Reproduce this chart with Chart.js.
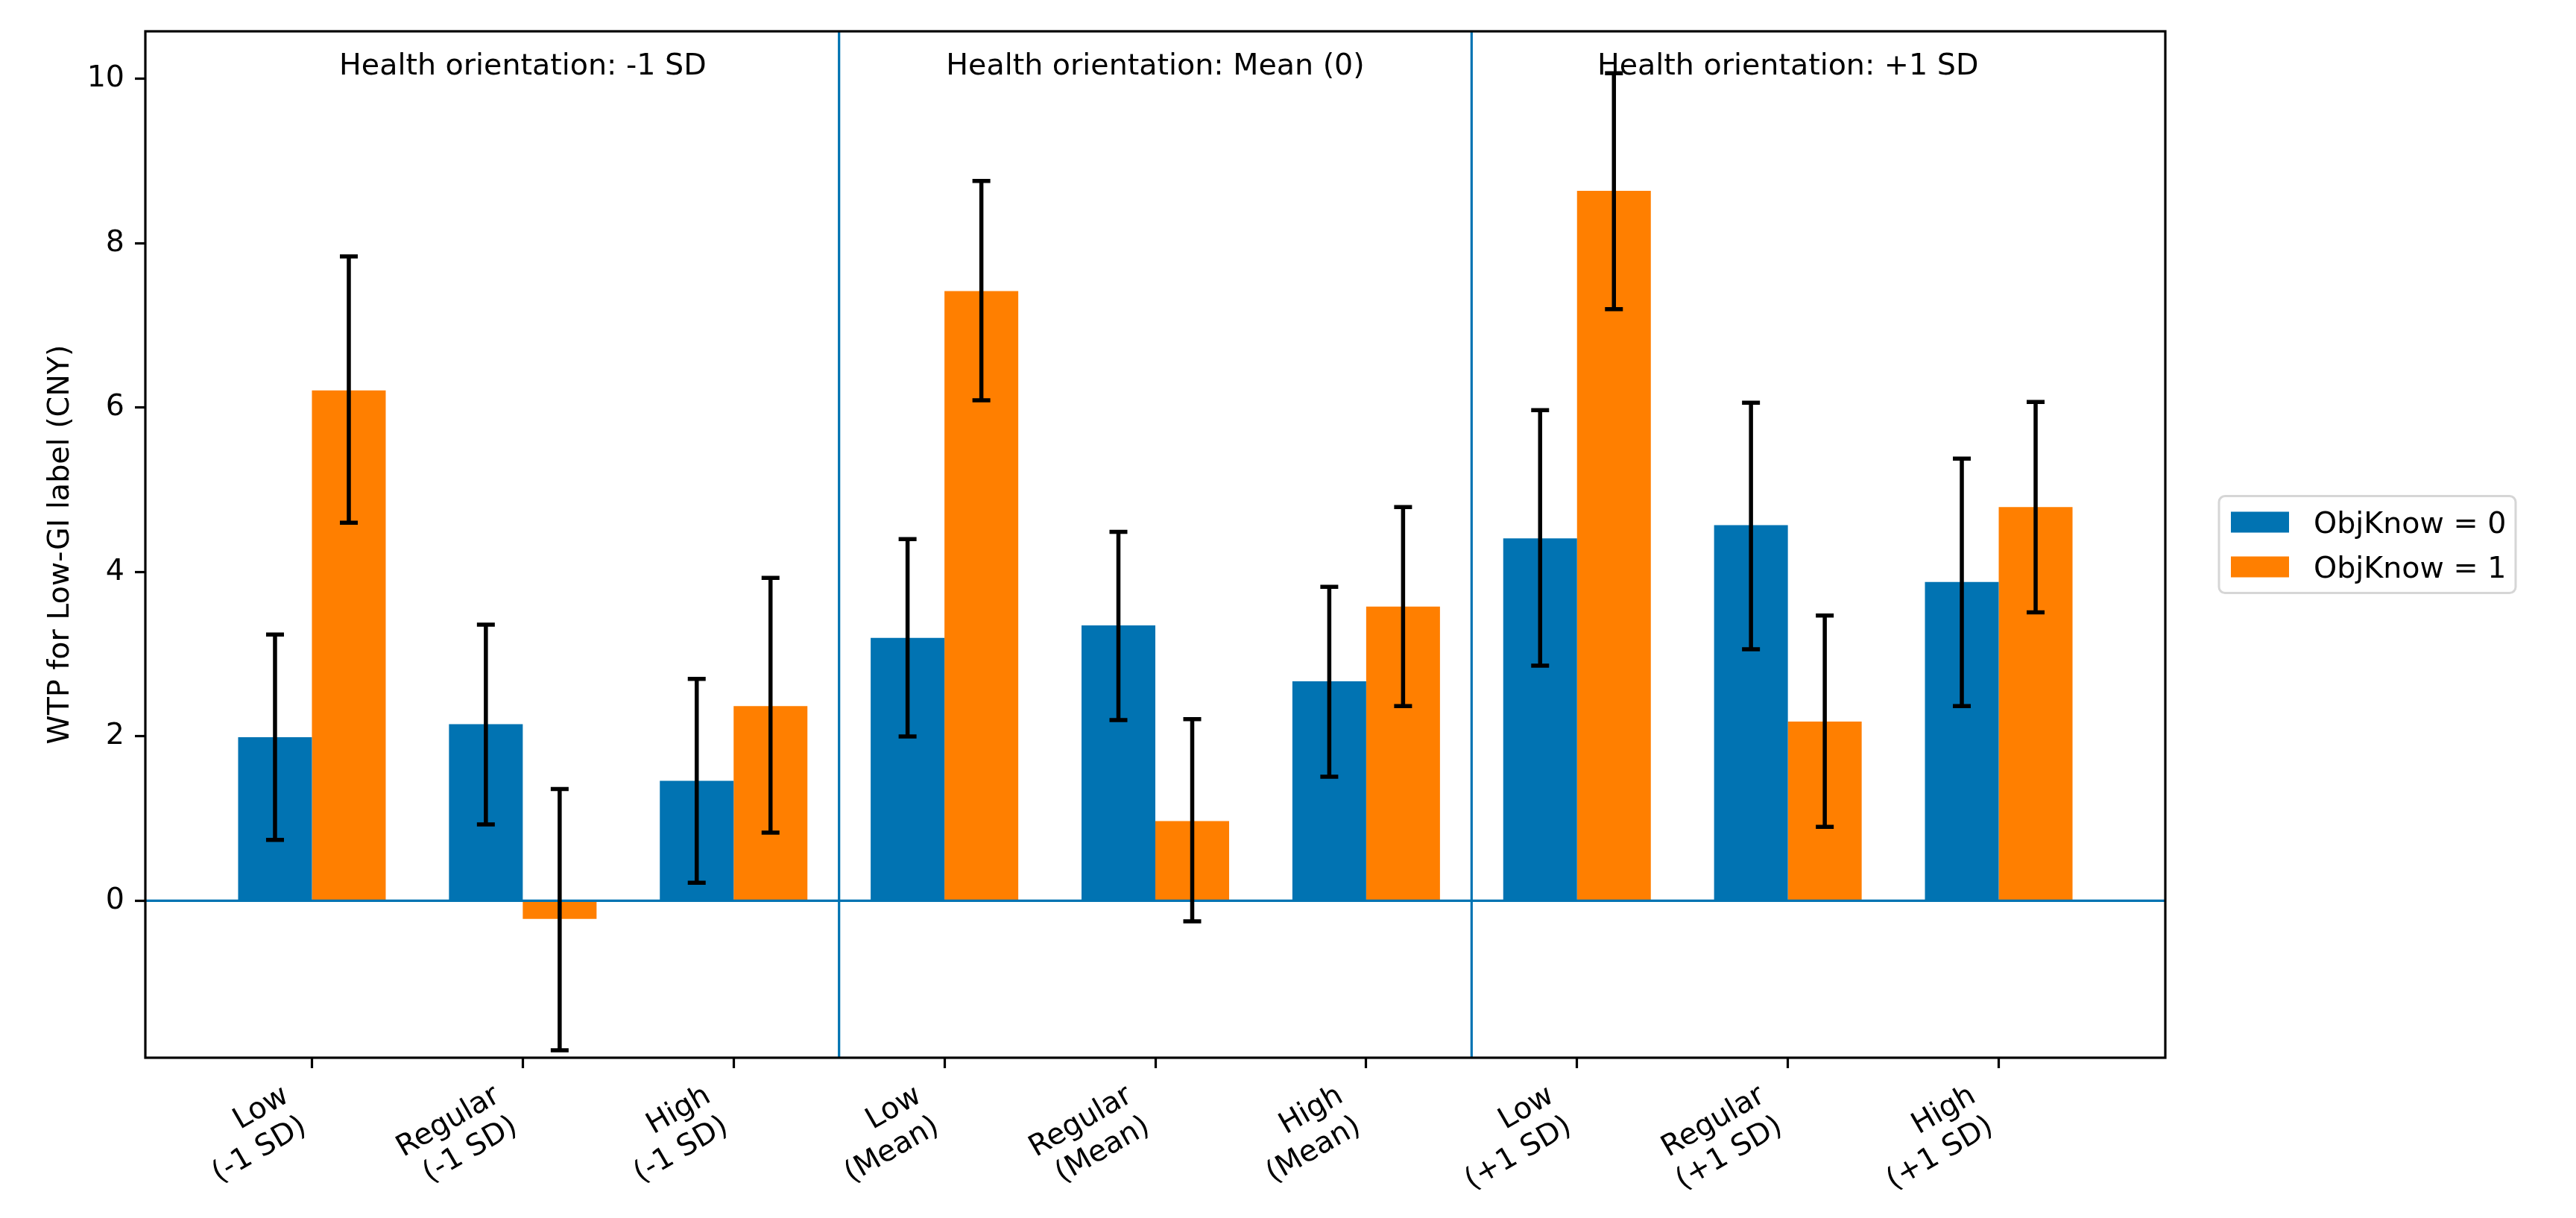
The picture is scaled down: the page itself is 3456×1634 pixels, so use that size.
<!DOCTYPE html>
<html>
<head>
<meta charset="utf-8">
<script src="https://cdn.jsdelivr.net/npm/chart.js@4.4.1/dist/chart.umd.min.js"></script>
<style>
    html, body { margin: 0; padding: 0; background: #fff; }
    #wrap { width: 3456px; height: 1634px; }
</style>
</head>
<body>
<div id="wrap"><canvas id="chart"></canvas></div>
<script>
const categories = [
    ["Low", "(-1 SD)"], ["Regular", "(-1 SD)"], ["High", "(-1 SD)"],
    ["Low", "(Mean)"], ["Regular", "(Mean)"], ["High", "(Mean)"],
    ["Low", "(+1 SD)"], ["Regular", "(+1 SD)"], ["High", "(+1 SD)"]
];
const panelTitles = ["Health orientation: -1 SD", "Health orientation: Mean (0)", "Health orientation: +1 SD"];
const seriesNames = ["ObjKnow = 0", "ObjKnow = 1"];
const yTicks = [0, 2, 4, 6, 8, 10];

const know0 = [1.99, 2.15, 1.46, 3.20, 3.35, 2.67, 4.41, 4.57, 3.88];
const know0Lo = [0.74, 0.93, 0.22, 2.00, 2.20, 1.51, 2.86, 3.06, 2.37];
const know0Hi = [3.24, 3.36, 2.70, 4.40, 4.49, 3.82, 5.97, 6.06, 5.38];

const know1 = [6.21, -0.22, 2.37, 7.42, 0.97, 3.58, 8.64, 2.18, 4.79];
const know1Lo = [4.60, -1.82, 0.83, 6.09, -0.25, 2.37, 7.20, 0.90, 3.51];
const know1Hi = [7.84, 1.36, 3.93, 8.76, 2.21, 4.79, 10.07, 3.47, 6.07];

const blue = "#0173B2", orange = "#FF7F00";
const FS = 39.6;

Chart.defaults.font.family = "'DejaVu Sans'";
Chart.defaults.font.size = FS;
Chart.defaults.color = "#000";

const errors = [[know0Lo, know0Hi], [know1Lo, know1Hi]];

const decor = {
    id: "decor",
    afterDatasetsDraw(chart) {
        const ctx = chart.ctx, ca = chart.chartArea;
        const xs = chart.scales.x, ys = chart.scales.y;
        ctx.save();

        // zero line and panel dividers
        ctx.strokeStyle = blue;
        ctx.lineWidth = 3.2;
        const y0 = ys.getPixelForValue(0);
        ctx.beginPath();
        ctx.moveTo(ca.left, y0);
        ctx.lineTo(ca.right, y0);
        [2.5, 5.5].forEach(v => {
            const px = xs.getPixelForValue(v);
            ctx.moveTo(px, ca.top);
            ctx.lineTo(px, ca.bottom);
        });
        ctx.stroke();

        // error bars
        ctx.strokeStyle = "#000";
        ctx.lineWidth = 5.5;
        errors.forEach(([lo, hi], i) => {
            chart.getDatasetMeta(i).data.forEach((bar, j) => {
                const a = ys.getPixelForValue(hi[j]), b = ys.getPixelForValue(lo[j]);
                ctx.beginPath();
                ctx.moveTo(bar.x, a);
                ctx.lineTo(bar.x, b);
                ctx.moveTo(bar.x - 12, a);
                ctx.lineTo(bar.x + 12, a);
                ctx.moveTo(bar.x - 12, b);
                ctx.lineTo(bar.x + 12, b);
                ctx.stroke();
            });
        });

        // panel titles
        ctx.fillStyle = "#000";
        ctx.font = FS + "px 'DejaVu Sans'";
        ctx.textAlign = "center";
        ctx.textBaseline = "alphabetic";
        panelTitles.forEach((t, k) => {
            ctx.fillText(t, xs.getPixelForValue(k * 3 + 1), ca.top + 57.5);
        });

        // frame
        ctx.lineWidth = 3.2;
        ctx.strokeStyle = "#000";
        ctx.strokeRect(ca.left, ca.top, ca.right - ca.left, ca.bottom - ca.top);

        // legend
        const lx = ca.right + 72, cy = (ca.top + ca.bottom) / 2;
        const lw = 398, lh = 130, ly = cy - lh / 2;
        ctx.beginPath();
        ctx.roundRect(lx, ly, lw, lh, 8);
        ctx.fillStyle = "#fff";
        ctx.fill();
        ctx.strokeStyle = "#d6d6d6";
        ctx.lineWidth = 3;
        ctx.stroke();
        ctx.textAlign = "left";
        [blue, orange].forEach((c, i) => {
            const rc = cy - 30 + i * 60;
            ctx.fillStyle = c;
            ctx.fillRect(lx + 16, rc - 14, 78, 28);
            ctx.fillStyle = "#000";
            ctx.fillText(seriesNames[i], lx + 127, rc + 14);
        });
        ctx.restore();
    }
};

new Chart(document.getElementById("chart"), {
    type: "bar",
    data: {
        datasets: [{
            label: seriesNames[0],
            data: know0.map((v, i) => ({ x: i, y: v })),
            backgroundColor: blue,
            borderWidth: 0,
        }, {
            label: seriesNames[1],
            data: know1.map((v, i) => ({ x: i, y: v })),
            backgroundColor: orange,
            borderWidth: 0,
        }]
    },
    options: {
        responsive: true,
        maintainAspectRatio: false,
        devicePixelRatio: 1,
        animation: false,
        categoryPercentage: 0.7,
        barPercentage: 1.0,
        layout: {
            padding: { left: 0, top: 42, right: 551, bottom: 0 }
        },
        plugins: {
            legend: { display: false },
            tooltip: { enabled: false }
        },
        scales: {
            x: {
                type: "linear",
                bounds: "data",
                offset: false,
                min: -0.79,
                max: 8.79,
                afterBuildTicks: s => { s.ticks = categories.map((c, i) => ({ value: i })); },
                afterFit: s => { s.height = 215; },
                border: { display: false },
                grid: {
                    offset: false,
                    drawOnChartArea: false,
                    drawTicks: true,
                    tickLength: 14,
                    tickWidth: 3.2,
                    tickColor: "#000"
                },
                ticks: {
                    autoSkip: false,
                    minRotation: 30,
                    maxRotation: 30,
                    padding: 14,
                    labelOffset: -34,
                    callback: v => categories[v]
                }
            },
            y: {
                type: "linear",
                bounds: "data",
                min: -1.91,
                max: 10.58,
                afterBuildTicks: s => { s.ticks = yTicks.map(v => ({ value: v })); },
                afterFit: s => { s.width = 195; },
                border: { display: false },
                grid: {
                    drawOnChartArea: false,
                    drawTicks: true,
                    tickLength: 14,
                    tickWidth: 3.2,
                    tickColor: "#000"
                },
                ticks: {
                    padding: 14,
                    callback: v => String(v)
                },
                title: {
                    display: true,
                    text: "WTP for Low-GI label (CNY)",
                    padding: { top: 58, bottom: 0 }
                }
            }
        }
    },
    plugins: [decor]
});
</script>
</body>
</html>
